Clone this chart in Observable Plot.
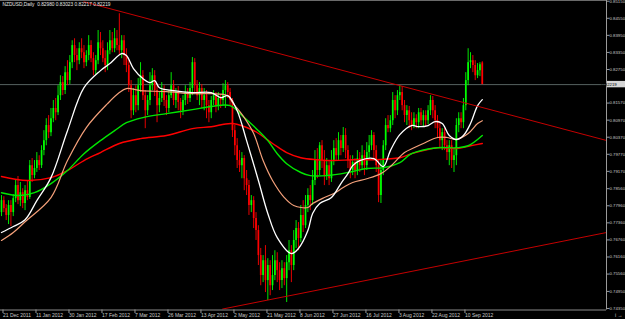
<!DOCTYPE html>
<html><head><meta charset="utf-8">
<script src="https://cdn.jsdelivr.net/npm/d3@7"></script>
<script src="https://cdn.jsdelivr.net/npm/@observablehq/plot@0.6"></script>
<style>html,body{margin:0;padding:0;background:#000;overflow:hidden;} #chart svg{display:block;}</style>
</head><body><div id="chart"></div>
<script>
const chartTitle = "NZDUSD,Daily  0.82980 0.83023 0.82217 0.82219";
const lastClose = 0.82219;

const opens = [
0.7772,0.7814,0.7786,0.7762,0.7797,0.7772,0.7821,0.7867,0.7814,0.7842,
0.7804,0.7849,0.7825,0.7937,0.7902,0.7927,0.7955,0.7937,0.7990,0.8025,
0.8078,0.8053,0.8102,0.8138,0.8123,0.8183,0.8229,0.8201,0.8264,0.8236,
0.8299,0.8359,0.8324,0.8306,0.8348,0.8334,0.8299,0.8324,0.8359,0.8313,
0.8271,0.8306,0.8369,0.8348,0.8313,0.8289,0.8341,0.8376,0.8348,0.8383,
0.8359,0.8341,0.8376,0.8324,0.8289,0.8218,0.8130,0.8183,0.8148,0.8218,
0.8253,0.8183,0.8130,0.8166,0.8218,0.8253,0.8201,0.8148,0.8173,0.8201,
0.8166,0.8138,0.8183,0.8218,0.8166,0.8194,0.8159,0.8130,0.8166,0.8194,
0.8173,0.8208,0.8299,0.8218,0.8183,0.8208,0.8166,0.8183,0.8148,0.8123,
0.8166,0.8183,0.8148,0.8173,0.8166,0.8201,0.8218,0.8194,0.8166,0.8060,
0.8007,0.7955,0.7937,0.7962,0.7891,0.7867,0.7797,0.7814,0.7751,0.7709,
0.7621,0.7551,0.7603,0.7533,0.7586,0.7515,0.7551,0.7603,0.7568,0.7533,
0.7575,0.7540,0.7596,0.7638,0.7586,0.7674,0.7716,0.7681,0.7762,0.7726,
0.7797,0.7832,0.7814,0.7885,0.7955,0.7920,0.8007,0.7955,0.7902,0.7937,
0.7891,0.7955,0.7997,0.7972,0.8025,0.7997,0.8043,0.7990,0.7955,0.7920,
0.7948,0.7920,0.7962,0.7937,0.7972,0.7937,0.7983,0.8007,0.8043,0.7990,
0.7937,0.7832,0.7920,0.8007,0.8078,0.8067,0.8095,0.8166,0.8130,0.8183,
0.8194,0.8148,0.8113,0.8130,0.8095,0.8078,0.8102,0.8088,0.8123,0.8095,
0.8113,0.8095,0.8130,0.8166,0.8130,0.8095,0.8067,0.8025,0.8053,0.8007,
0.7983,0.8007,0.7955,0.7972,0.8078,0.8102,0.8088,0.8148,0.8236,0.8299,
0.8306,0.8289,0.8253,0.8271,0.8298];

const highs = [
0.7832,0.7828,0.7800,0.7814,0.7814,0.7835,0.7885,0.7899,0.7878,0.7856,
0.7867,0.7885,0.7955,0.7962,0.7955,0.7983,0.7972,0.8007,0.8060,0.8102,
0.8113,0.8138,0.8166,0.8173,0.8218,0.8253,0.8250,0.8285,0.8306,0.8324,
0.8376,0.8383,0.8348,0.8369,0.8383,0.8359,0.8341,0.8394,0.8376,0.8334,
0.8324,0.8412,0.8405,0.8376,0.8341,0.8369,0.8412,0.8405,0.8419,0.8412,
0.8471,0.8394,0.8394,0.8348,0.8306,0.8236,0.8208,0.8218,0.8243,0.8299,
0.8271,0.8201,0.8183,0.8264,0.8278,0.8271,0.8218,0.8194,0.8229,0.8218,
0.8183,0.8201,0.8264,0.8236,0.8208,0.8215,0.8173,0.8183,0.8218,0.8208,
0.8229,0.8317,0.8313,0.8236,0.8229,0.8222,0.8208,0.8201,0.8166,0.8180,
0.8201,0.8194,0.8194,0.8187,0.8225,0.8236,0.8229,0.8208,0.8173,0.8078,
0.8032,0.7990,0.7983,0.7972,0.7920,0.7885,0.7832,0.7828,0.7772,0.7726,
0.7646,0.7621,0.7656,0.7610,0.7603,0.7621,0.7638,0.7631,0.7596,0.7603,
0.7596,0.7621,0.7674,0.7656,0.7709,0.7744,0.7737,0.7797,0.7814,0.7832,
0.7856,0.7867,0.7920,0.7990,0.7997,0.8018,0.8025,0.7990,0.7962,0.7955,
0.7990,0.8025,0.8032,0.8053,0.8043,0.8071,0.8067,0.8007,0.7972,0.7972,
0.7962,0.7990,0.7983,0.8007,0.7990,0.8018,0.8043,0.8060,0.8053,0.8007,
0.7955,0.7955,0.8025,0.8102,0.8113,0.8113,0.8194,0.8183,0.8201,0.8218,
0.8215,0.8166,0.8148,0.8145,0.8123,0.8123,0.8116,0.8138,0.8138,0.8130,
0.8130,0.8148,0.8183,0.8180,0.8148,0.8113,0.8088,0.8067,0.8067,0.8025,
0.8025,0.8025,0.7997,0.8102,0.8123,0.8123,0.8173,0.8264,0.8348,0.8334,
0.8324,0.8306,0.8296,0.8299,0.83023];

const lows = [
0.7758,0.7772,0.7744,0.7730,0.7723,0.7758,0.7807,0.7800,0.7793,0.7786,
0.7779,0.7814,0.7818,0.7878,0.7891,0.7913,0.7920,0.7927,0.7972,0.8007,
0.8032,0.8039,0.8088,0.8095,0.8113,0.8166,0.8183,0.8187,0.8218,0.8222,
0.8278,0.8299,0.8271,0.8292,0.8313,0.8278,0.8285,0.8306,0.8299,0.8253,
0.8257,0.8292,0.8324,0.8299,0.8264,0.8271,0.8327,0.8334,0.8334,0.8341,
0.8324,0.8313,0.8289,0.8264,0.8194,0.8102,0.8113,0.8123,0.8130,0.8194,
0.8166,0.8067,0.8113,0.8148,0.8201,0.8180,0.8088,0.8123,0.8159,0.8145,
0.8113,0.8123,0.8173,0.8148,0.8138,0.8130,0.8102,0.8113,0.8148,0.8152,
0.8159,0.8183,0.8194,0.8166,0.8148,0.8138,0.8130,0.8102,0.8088,0.8102,
0.8148,0.8123,0.8130,0.8138,0.8148,0.8138,0.8173,0.8148,0.8036,0.7972,
0.7927,0.7913,0.7891,0.7849,0.7832,0.7762,0.7772,0.7716,0.7674,0.7586,
0.7515,0.7526,0.7491,0.7463,0.7480,0.7498,0.7533,0.7526,0.7498,0.7505,
0.7515,0.7456,0.7568,0.7526,0.7568,0.7646,0.7638,0.7667,0.7702,0.7716,
0.7772,0.7779,0.7797,0.7867,0.7891,0.7902,0.7927,0.7867,0.7885,0.7867,
0.7878,0.7937,0.7955,0.7955,0.7972,0.7983,0.7962,0.7927,0.7891,0.7902,
0.7891,0.7902,0.7913,0.7920,0.7902,0.7920,0.7962,0.7990,0.7962,0.7913,
0.7807,0.7804,0.7902,0.7990,0.8053,0.8053,0.8078,0.8102,0.8113,0.8166,
0.8130,0.8088,0.8078,0.8067,0.8060,0.8067,0.8067,0.8067,0.8078,0.8071,
0.8074,0.8081,0.8113,0.8102,0.8067,0.8032,0.7997,0.7990,0.7990,0.7955,
0.7937,0.7927,0.7913,0.7937,0.8053,0.8067,0.8067,0.8130,0.8218,0.8278,
0.8264,0.8236,0.8243,0.8250,0.82217];

const closes = [
0.7814,0.7786,0.7762,0.7797,0.7772,0.7821,0.7867,0.7814,0.7842,0.7804,
0.7849,0.7825,0.7937,0.7902,0.7927,0.7955,0.7937,0.7990,0.8025,0.8078,
0.8053,0.8102,0.8138,0.8123,0.8183,0.8229,0.8201,0.8264,0.8236,0.8299,
0.8359,0.8324,0.8306,0.8348,0.8334,0.8299,0.8324,0.8359,0.8313,0.8271,
0.8306,0.8369,0.8348,0.8313,0.8289,0.8341,0.8376,0.8348,0.8383,0.8359,
0.8341,0.8376,0.8324,0.8289,0.8218,0.8130,0.8183,0.8148,0.8218,0.8253,
0.8183,0.8130,0.8166,0.8218,0.8253,0.8201,0.8148,0.8173,0.8201,0.8166,
0.8138,0.8183,0.8218,0.8166,0.8194,0.8159,0.8130,0.8166,0.8194,0.8173,
0.8208,0.8299,0.8218,0.8183,0.8208,0.8166,0.8183,0.8148,0.8123,0.8166,
0.8183,0.8148,0.8173,0.8166,0.8201,0.8218,0.8194,0.8166,0.8060,0.8007,
0.7955,0.7937,0.7962,0.7891,0.7867,0.7797,0.7814,0.7751,0.7709,0.7621,
0.7551,0.7603,0.7533,0.7586,0.7515,0.7551,0.7603,0.7568,0.7533,0.7575,
0.7540,0.7596,0.7638,0.7586,0.7674,0.7716,0.7681,0.7762,0.7726,0.7797,
0.7832,0.7814,0.7885,0.7955,0.7920,0.8007,0.7955,0.7902,0.7937,0.7891,
0.7955,0.7997,0.7972,0.8025,0.7997,0.8043,0.7990,0.7955,0.7920,0.7948,
0.7920,0.7962,0.7937,0.7972,0.7937,0.7983,0.8007,0.8043,0.7990,0.7937,
0.7832,0.7920,0.8007,0.8078,0.8067,0.8095,0.8166,0.8130,0.8183,0.8194,
0.8148,0.8113,0.8130,0.8095,0.8078,0.8102,0.8088,0.8123,0.8095,0.8113,
0.8095,0.8130,0.8166,0.8130,0.8095,0.8067,0.8025,0.8053,0.8007,0.7983,
0.8007,0.7955,0.7972,0.8078,0.8102,0.8088,0.8148,0.8236,0.8299,0.8306,
0.8289,0.8253,0.8271,0.8292,0.82219];

// moving averages: [bar, price]
const maWhite = [[0,0.7702],[5,0.7723],[10,0.7747],[15,0.7814],[21,0.7895],[28,0.8060],[35,0.8211],[42,0.8271],[46,0.8296],[51,0.8331],[53,0.8324],[56,0.8278],[60,0.8243],[63,0.8229],[65,0.8236],[67,0.8211],[73,0.8201],[81,0.8194],[89,0.8194],[93,0.8176],[96,0.8183],[100,0.8130],[104,0.8025],[109,0.7885],[113,0.7769],[117,0.7684],[123,0.7628],[126,0.7646],[130,0.7709],[132,0.7769],[135,0.7804],[140,0.7825],[144,0.7874],[147,0.7909],[149,0.7937],[152,0.7955],[158,0.7962],[162,0.7934],[165,0.7990],[169,0.8046],[174,0.8078],[177,0.8074],[181,0.8078],[184,0.8092],[187,0.8085],[190,0.8043],[193,0.8029],[196,0.8043],[199,0.8085],[202,0.8148],[204,0.8169]];
const maPeach = [[0,0.7674],[5,0.7702],[10,0.7740],[21,0.7825],[28,0.7955],[36,0.8071],[45,0.8155],[50,0.8194],[53,0.8208],[59,0.8201],[70,0.8197],[81,0.8190],[89,0.8190],[96,0.8183],[98,0.8159],[103,0.8106],[107,0.8050],[111,0.7955],[115,0.7885],[120,0.7825],[124,0.7797],[130,0.7790],[132,0.7804],[137,0.7825],[141,0.7839],[145,0.7860],[149,0.7878],[155,0.7891],[161,0.7909],[165,0.7934],[171,0.7983],[175,0.8000],[179,0.8015],[185,0.8036],[189,0.8036],[193,0.8029],[198,0.8050],[202,0.8085],[204,0.8095]];
const maGreen = [[0,0.7842],[8,0.7832],[14,0.7842],[21,0.7874],[28,0.7920],[35,0.7979],[42,0.8025],[48,0.8060],[53,0.8088],[60,0.8106],[70,0.8120],[81,0.8134],[89,0.8145],[97,0.8148],[103,0.8106],[109,0.8060],[113,0.8025],[117,0.7979],[121,0.7944],[127,0.7913],[131,0.7902],[138,0.7902],[147,0.7913],[155,0.7927],[162,0.7930],[169,0.7948],[174,0.7979],[185,0.8000],[193,0.8000],[198,0.8007],[204,0.8043]];
const maRed = [[0,0.7899],[11,0.7885],[21,0.7895],[28,0.7920],[35,0.7955],[42,0.7983],[50,0.8015],[59,0.8032],[70,0.8043],[81,0.8067],[89,0.8074],[98,0.8085],[107,0.8060],[115,0.8015],[121,0.7983],[127,0.7965],[134,0.7958],[141,0.7955],[149,0.7958],[158,0.7958],[169,0.7965],[174,0.7979],[185,0.8000],[193,0.7997],[199,0.8007],[204,0.8015]];

// trend lines: [bar, price]
const upperTrend = [[35,0.8513],[256.7,0.80255]];
const lowerTrend = [[93.8,0.7433],[256.7,0.7702]];

const dateLabels = ["21 Dec 2011","11 Jan 2012","30 Jan 2012","17 Feb 2012","7 Mar 2012","26 Mar 2012","13 Apr 2012","2 May 2012","21 May 2012","8 Jun 2012","27 Jun 2012","16 Jul 2012","3 Aug 2012","22 Aug 2012","10 Sep 2012"];
const dateLabelBars = [0,14,28,42,56,70,84,98,112,126,140,154,168,182,196];

const priceTicks = [0.7435,0.7495,0.7556,0.7616,0.7676,0.7736,0.7796,0.7856,0.7917,0.7977,0.8037,0.8097,0.8157,0.8275,0.8335,0.8395,0.8455,0.8515];
const priceTickLabels = ["0.74350","0.74950","0.75560","0.76160","0.76760","0.77360","0.77960","0.78560","0.79170","0.79770","0.80370","0.80970","0.81570","0.82750","0.83350","0.83950","0.84550","0.85150"];

const xDomain = [-0.42, 256.7];
const yDomain = [0.74297, 0.85175];

const candles = opens.map((o, i) => ({i, open: o, high: highs[i], low: lows[i], close: closes[i]}));
const col = d => d.close >= d.open ? "#00ff00" : "#ff0000";
const dateMap = new Map(dateLabelBars.map((b, k) => [b, dateLabels[k]]));
const priceMap = new Map(priceTicks.map((p, k) => [p, priceTickLabels[k]]));
const font = "'Liberation Sans', Arial, sans-serif";

const maLine = (data, stroke, w) => Plot.line(data, {x: d => d[0], y: d => d[1], curve: "catmull-rom", stroke, strokeWidth: w, clip: true});

const plot = Plot.plot({
  width: 625, height: 319,
  marginLeft: 0, marginRight: 19, marginTop: 0, marginBottom: 9.5,
  style: {background: "#000", color: "#c8c8c8", fontFamily: font, fontSize: "5px"},
  x: {type: "linear", domain: xDomain},
  y: {type: "linear", domain: yDomain},
  marks: [
    Plot.ruleY([lastClose], {stroke: "#56625f", strokeWidth: 1}),
    Plot.ruleX(candles, {x: "i", y1: "low", y2: "high", stroke: col, strokeWidth: 0.9}),
    Plot.ruleX(candles, {x: "i", y1: "open", y2: "close", stroke: col, strokeWidth: 1.7}),
    maLine(maRed, "#ff0000", 1.4),
    maLine(maGreen, "#00e600", 1.4),
    maLine(maPeach, "#f4a07a", 1.2),
    maLine(maWhite, "#ffffff", 1.3),
    Plot.line(upperTrend, {x: d => d[0], y: d => d[1], stroke: "#c40000", strokeWidth: 1, clip: true}),
    Plot.line(lowerTrend, {x: d => d[0], y: d => d[1], stroke: "#c40000", strokeWidth: 1, clip: true}),
    Plot.ruleX([xDomain[1]], {stroke: "#9a9a9a"}),
    Plot.ruleY([yDomain[0]], {stroke: "#8a8a8a"}),
    Plot.ruleY([yDomain[1]], {stroke: "#6a6a6a"}),
    Plot.axisY({anchor: "right", ticks: priceTicks, tickFormat: d => priceMap.get(d), tickSize: 2.5, tickPadding: 0.5, stroke: "#9a9a9a", fill: "#c8c8c8", fontSize: 4.3}),
    Plot.axisX({anchor: "bottom", ticks: dateLabelBars, tickFormat: d => dateMap.get(d), tickSize: 3.5, tickPadding: 0, textAnchor: "start", dx: 1.5, stroke: "#9a9a9a", fill: "#c8c8c8", fontSize: 5}),
    Plot.text([chartTitle], {text: d => d, frameAnchor: "top-left", dx: 2, dy: 2, lineAnchor: "top", fill: "#e6e6e6", fontSize: 4.8})
  ]
});
document.getElementById("chart").appendChild(plot);

// current price box on the price axis
const svg = d3.select(plot);
const yPos = plot.scale("y").apply(lastClose);
const xPos = plot.scale("x").apply(xDomain[1]);
svg.append("rect").attr("x", xPos + 1).attr("y", yPos - 3.2).attr("width", 25).attr("height", 6.4).attr("fill", "#d6d6d6");
svg.append("text").attr("x", xPos + 3).attr("y", yPos).attr("dy", "0.35em").attr("fill", "#000").attr("font-size", 4.3).attr("font-family", font).text(lastClose.toFixed(5));
</script>
</body></html>
